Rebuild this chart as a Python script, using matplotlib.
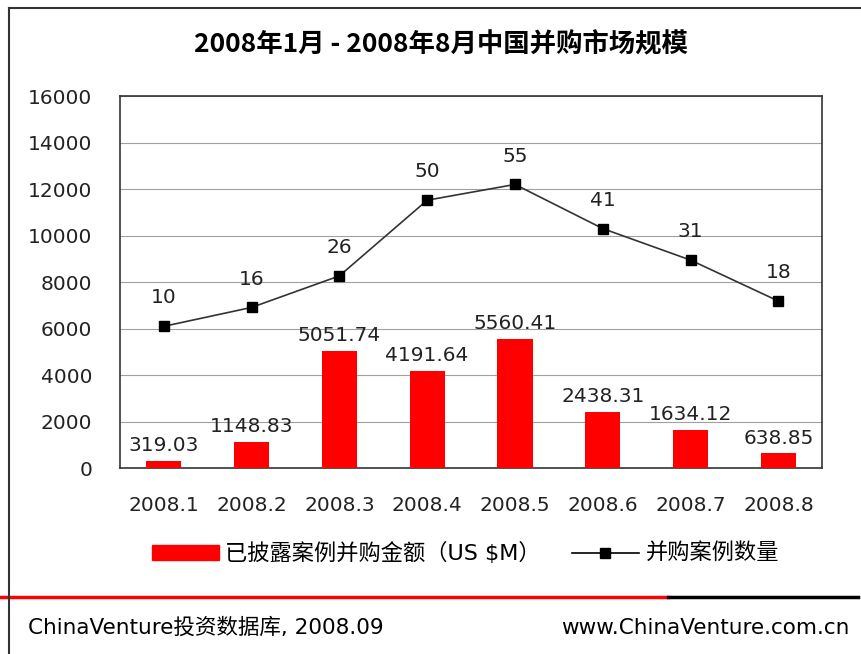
import matplotlib
matplotlib.use("Agg")
import matplotlib.pyplot as plt
from matplotlib.lines import Line2D
from matplotlib.patches import Rectangle
import numpy as np

plt.rcParams['font.family'] = ['DejaVu Sans', 'Noto Sans CJK SC']

months = ["2008.1", "2008.2", "2008.3", "2008.4", "2008.5", "2008.6", "2008.7", "2008.8"]
amounts = [319.03, 1148.83, 5051.74, 4191.64, 5560.41, 2438.31, 1634.12, 638.85]
deals = [10, 16, 26, 50, 55, 41, 31, 18]

fig = plt.figure(figsize=(8.62, 6.54), dpi=100)
ax = fig.add_axes([0.139, 0.284, 0.815, 0.569])
x = np.arange(len(months))

ax.bar(x, amounts, width=0.4, color="#ff0000", zorder=3)
for xi, v in zip(x, amounts):
    ax.text(xi, v + 250, f"{v:.2f}", ha="center", va="bottom", fontsize=14.5, color="#222222")

ax.set_ylim(0, 16000)
ax.set_xlim(-0.5, len(months) - 0.5)
ax.set_yticks(range(0, 16001, 2000))
ax.set_xticks(x)
ax.set_xticklabels(months)
ax.tick_params(length=0, labelsize=14.5, colors="#222222")
ax.tick_params(axis="y", pad=20)
ax.tick_params(axis="x", pad=20)
ax.grid(axis="y", color="#a0a0a0", lw=0.8, zorder=0)
for s in ax.spines.values():
    s.set_color("#333333")
    s.set_linewidth(1.2)

# deal count on a hidden secondary scale
ax2 = ax.twinx()
ax2.plot(x, deals, color="#333333", lw=1.2, marker="s", ms=7, mfc="black", mec="black", zorder=4)
ax2.set_ylim(-35, 83)
ax2.axis("off")
for xi, n in zip(x, deals):
    ax2.text(xi, n + 6, str(n), ha="center", va="bottom", fontsize=14.5, color="#222222")

fig.text(0.512, 0.931, "2008年1月 - 2008年8月中国并购市场规模", ha="center", va="center",
         fontsize=19, fontweight="bold", family=['Noto Sans CJK SC'])

handles = [Rectangle((0, 0), 1, 1, color="#ff0000"),
           Line2D([0], [0], color="black", marker="s", ms=7, lw=1.2)]
fig.legend(handles, ["已披露案例并购金额（US $M）", "并购案例数量"],
           loc="center", bbox_to_anchor=(0.54, 0.154), ncol=2, frameon=False,
           fontsize=16, handlelength=3.0, columnspacing=1.4, handletextpad=0.3)

# footer
fig.add_artist(Line2D([0.0, 0.775], [0.087, 0.087], color="#ff0000", lw=2.5))
fig.add_artist(Line2D([0.775, 0.995], [0.087, 0.087], color="black", lw=2.5))
fig.text(0.033, 0.040, "ChinaVenture投资数据库, 2008.09", fontsize=15.5, va="center")
fig.text(0.985, 0.040, "www.ChinaVenture.com.cn", fontsize=15.5, va="center", ha="right")

# outer frame
fig.add_artist(Line2D([0.011, 0.011], [0.0, 0.988], color="#333333", lw=1.5))
fig.add_artist(Line2D([0.011, 1.0], [0.988, 0.988], color="#333333", lw=1.5))

fig.savefig("out.png", dpi=100)
